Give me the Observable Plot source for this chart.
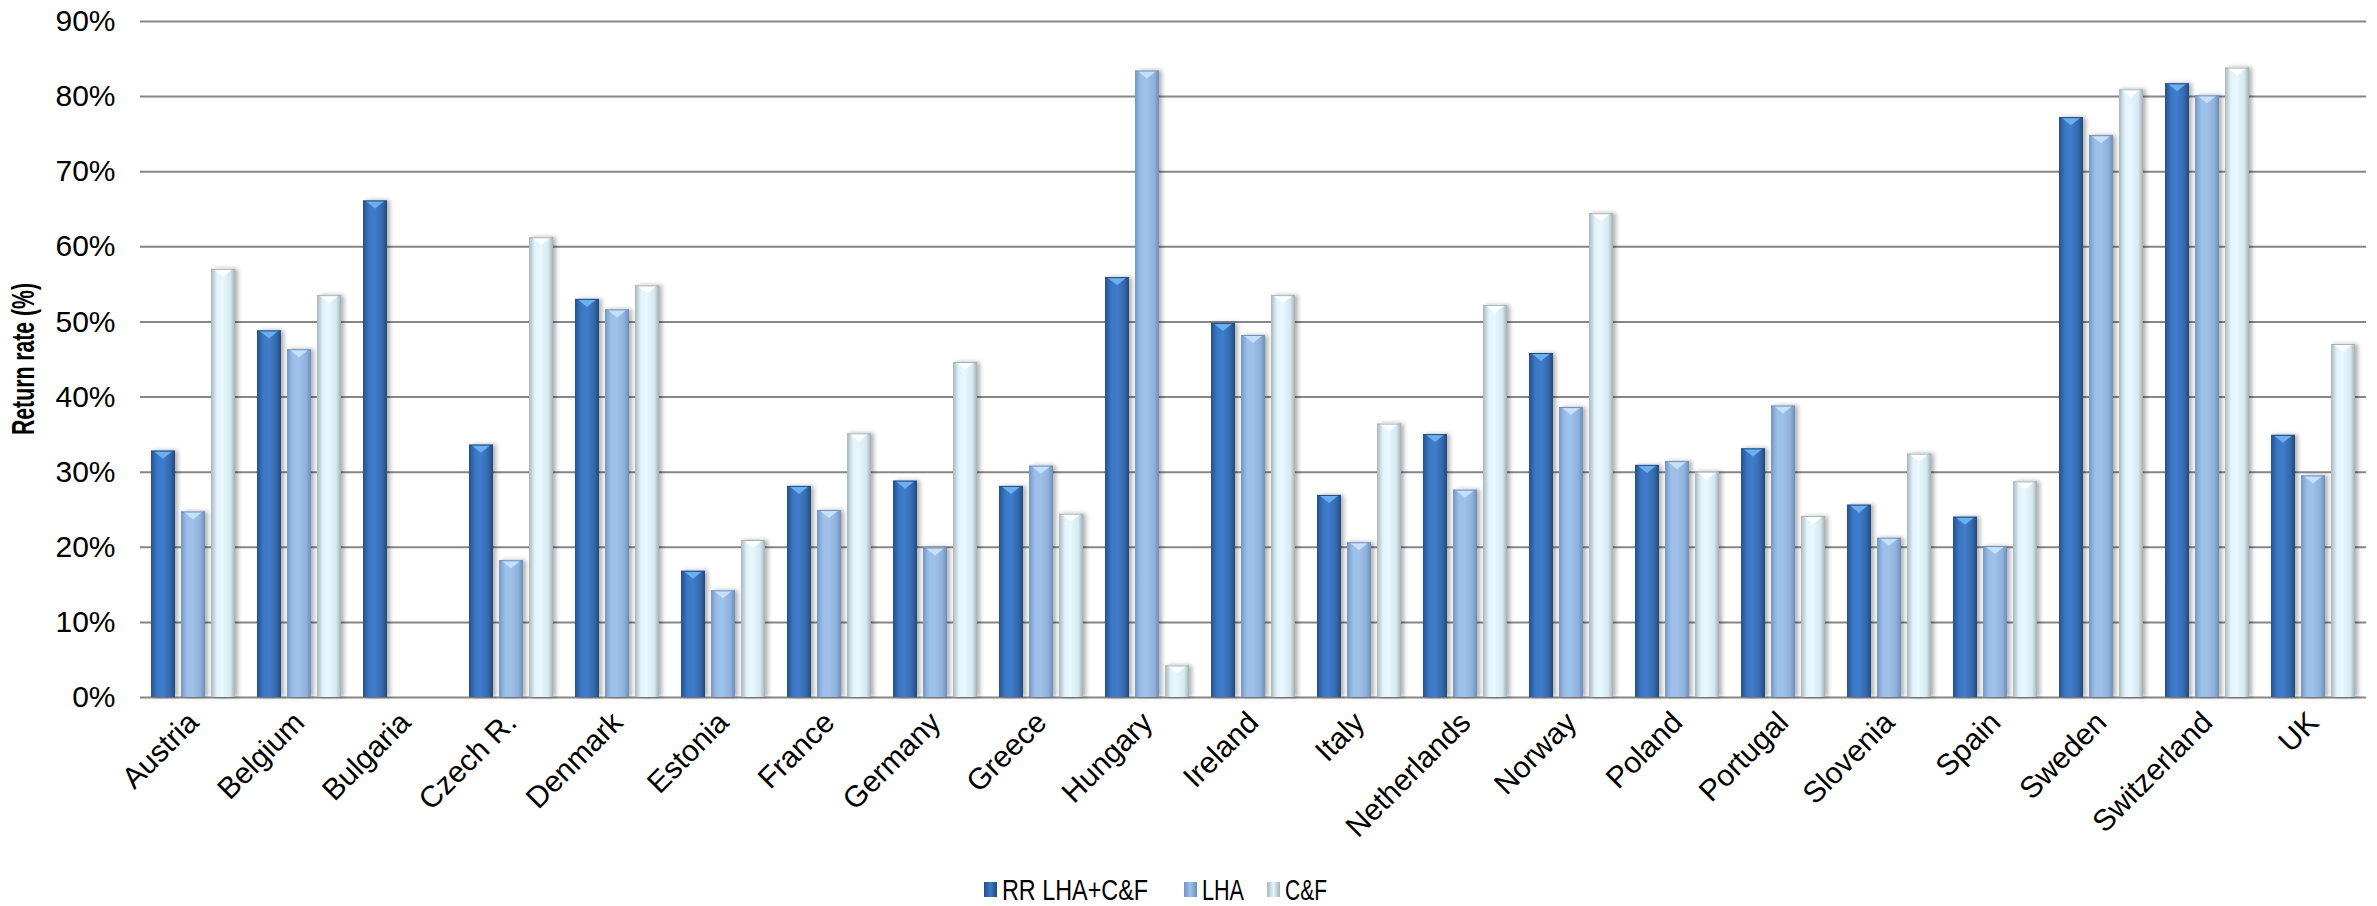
<!DOCTYPE html>
<html>
<head>
<meta charset="utf-8">
<script src="https://cdn.jsdelivr.net/npm/d3@7"></script>
<script src="https://cdn.jsdelivr.net/npm/@observablehq/plot@0.6"></script>
<style>
  html, body { margin: 0; padding: 0; background: #fff; }
  #wrap { position: relative; width: 2377px; height: 906px; overflow: hidden; }
  #legend { position: absolute; left: 0; top: 873px; width: 2377px; height: 34px;
    font-family: "Liberation Sans", Arial, sans-serif; font-size: 30px; color: #000; }
  #legend .sw { position: absolute; top: 9px; width: 13px; height: 15px; }
  #legend .lab { position: absolute; top: 0; display: block; white-space: nowrap; transform-origin: 0 0; line-height: 34px; }
</style>
</head>
<body>
<div id="wrap"><div id="chart"></div><div id="legend"></div></div>
<script>
const countries = ["Austria","Belgium","Bulgaria","Czech R.","Denmark","Estonia","France","Germany","Greece","Hungary","Ireland","Italy","Netherlands","Norway","Poland","Portugal","Slovenia","Spain","Sweden","Switzerland","UK"];
const seriesNames = ["RR LHA+C&F","LHA","C&F"];
const rrTotal = [32.8,48.8,66.1,33.6,53.0,16.8,28.1,28.8,28.1,55.9,49.8,26.9,35.0,45.8,30.9,33.1,25.6,24.0,77.2,81.7,34.9];
const lha     = [24.7,46.3,null,18.2,51.6,14.2,24.9,19.9,30.8,83.4,48.2,20.6,27.6,38.6,31.4,38.8,21.2,20.1,74.8,80.1,29.5];
const cf      = [57.0,53.5,null,61.2,54.8,20.9,35.1,44.6,24.4,4.2,53.5,36.4,52.2,64.4,30.0,24.1,32.4,28.7,80.9,83.8,47.0];
const yTicks = [0,10,20,30,40,50,60,70,80,90];

const seriesValues = [rrTotal, lha, cf];
const data = [];
countries.forEach((c, i) => {
  seriesNames.forEach((s, j) => {
    const v = seriesValues[j][i];
    if (v != null) data.push({country: c, series: s, value: v});
  });
});

const gradIds = ["gDark", "gMid", "gLight"];
const gradStops = [
  ["#24508a", "#3a76c3", "#3f7dcb", "#3569ae", "#224a7e"],
  ["#7396c5", "#9cbfea", "#9ec1ea", "#8fb1dc", "#6d8ebb"],
  ["#a9b7bd", "#e2f4fb", "#e6f7fd", "#d6e9f1", "#a3b0b6"]
];
const chevron = ["#6eb2f2", "#c9e2fa", "#ffffff"];

const chart = Plot.plot({
  width: 2377,
  height: 862,
  marginTop: 21,
  marginBottom: 165,
  marginLeft: 134,
  marginRight: 5,
  style: {fontFamily: "'Liberation Sans', Arial, sans-serif", fontSize: "30px", color: "#000", background: "#fff"},
  fx: {domain: countries, padding: 0, label: null},
  x: {domain: seriesNames, axis: null, paddingInner: 0.2, paddingOuter: 0.35},
  y: {domain: [0, 90], ticks: yTicks, tickFormat: d => d + "%", tickSize: 0, tickPadding: 25, label: null},
  color: {domain: seriesNames, range: gradIds.map(id => `url(#${id})`)},
  marks: [
    Plot.gridY(yTicks, {stroke: "#868686", strokeOpacity: 1, strokeWidth: 2}),
    Plot.barY(data, {fx: "country", x: "series", y: "value", fill: "series"}),
    Plot.axisFx({anchor: "bottom", tickRotate: -45, tickSize: 0, tickPadding: 20, dx: 0, label: null})
  ]
});

const svg = d3.select(chart);
const defs = svg.insert("defs", ":first-child");
gradIds.forEach((id, k) => {
  const g = defs.append("linearGradient").attr("id", id).attr("x1", "0").attr("x2", "1").attr("y1", "0").attr("y2", "0");
  const offs = [0, 0.25, 0.5, 0.8, 1];
  gradStops[k].forEach((c, i) => g.append("stop").attr("offset", offs[i]).attr("stop-color", c));
});
const shadow = defs.append("filter").attr("id", "barShadow").attr("x", "-20%").attr("y", "-5%").attr("width", "150%").attr("height", "110%");
shadow.append("feDropShadow").attr("dx", 3).attr("dy", 0).attr("stdDeviation", 2).attr("flood-color", "#000").attr("flood-opacity", 0.3);

// bevel chevrons at the top of each rendered bar
svg.selectAll("g[aria-label='bar']").attr("filter", "url(#barShadow)");
svg.selectAll("g[aria-label='bar'] rect").each(function() {
  const r = d3.select(this);
  const x = +r.attr("x"), y = +r.attr("y"), w = +r.attr("width");
  const k = gradIds.findIndex(id => (r.attr("fill") || "").includes(id));
  const p = d3.select(this.parentNode);
  p.append("polygon")
    .attr("points", `${x + 2},${y} ${x + w - 2},${y} ${x + w / 2},${y + 8}`)
    .attr("fill", chevron[Math.max(0, k)])
    .attr("opacity", 0.95)
    .attr("transform", r.attr("transform"));
  p.append("line")
    .attr("x1", x).attr("x2", x + w).attr("y1", y + 0.5).attr("y2", y + 0.5)
    .attr("stroke", gradStops[Math.max(0, k)][4]).attr("stroke-width", 1)
    .attr("transform", r.attr("transform"));
});

svg.append("text")
  .attr("transform", "translate(26,359) rotate(-90)")
  .attr("text-anchor", "middle")
  .attr("dominant-baseline", "middle")
  .attr("font-family", "'Liberation Sans', Arial, sans-serif")
  .attr("font-weight", "bold")
  .attr("font-size", 32)
  .attr("textLength", 152)
  .attr("lengthAdjust", "spacingAndGlyphs")
  .attr("fill", "#000")
  .text("Return rate (%)");

document.getElementById("chart").appendChild(chart);

const legend = d3.select("#legend");
const swX = [984, 1184, 1267];
const labW = [146, 42, 42];
seriesNames.forEach((s, k) => {
  legend.append("div").attr("class", "sw").style("left", swX[k] + "px")
    .style("background", `linear-gradient(to right, ${gradStops[k][0]}, ${gradStops[k][1]}, ${gradStops[k][4]})`);
  const lab = legend.append("span").attr("class", "lab").style("left", (swX[k] + 18) + "px").text(s);
  const w = lab.node().getBoundingClientRect().width;
  lab.style("transform", `scaleX(${labW[k] / w})`);
});
</script>
</body>
</html>
